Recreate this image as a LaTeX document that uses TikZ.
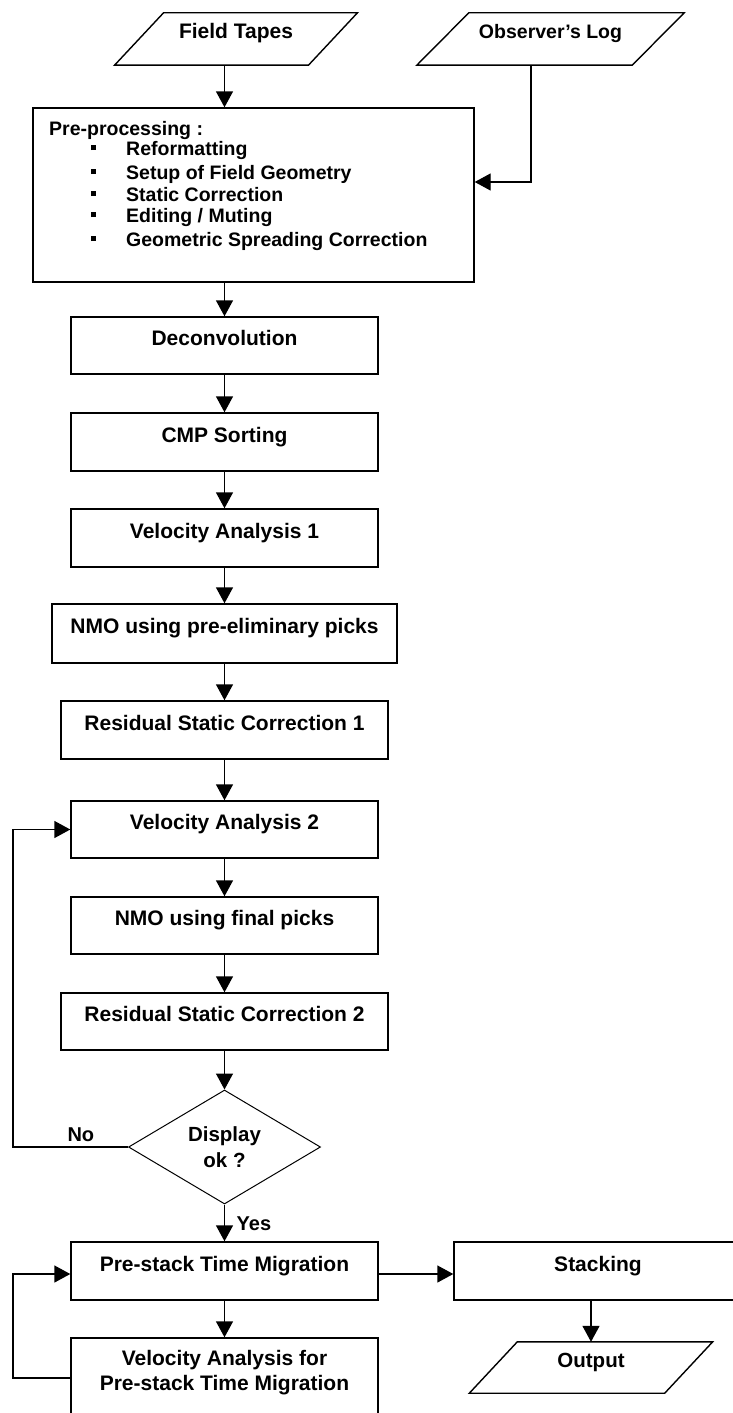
\documentclass[tikz,border=0pt]{standalone}
\usepackage{fontspec}
\setmainfont{Liberation Sans}
\usetikzlibrary{shapes.geometric,arrows.meta}
\begin{document}
\begin{tikzpicture}[x=1pt,y=-1pt,
  box/.style={draw, line width=1.4pt, rectangle, inner sep=0pt,
    font=\bfseries\fontsize{21}{25}\selectfont, text height=13pt, text depth=13pt},
  ptext/.style={rectangle, inner sep=0pt, text height=13pt, text depth=13pt},
  pline/.style={line width=1.4pt, line join=miter},
  arr/.style={line width=1.4pt, -{Triangle[width=17pt,length=16pt]}},
  lbl/.style={inner sep=0pt, font=\bfseries\fontsize{20}{24}\selectfont},
  prep/.style={anchor=base west, inner sep=0pt, font=\bfseries\fontsize{19.5}{22}\selectfont},
]
\useasboundingbox (0,0) rectangle (732,1413);
\fill[white] (0,0) rectangle (732,1413);
\coordinate (lx) at (13,0);

% input parallelograms
\node[ptext, minimum width=193.5pt, minimum height=52pt, font=\bfseries\fontsize{21}{25}\selectfont] (ft) at (236,39) {Field Tapes};
\draw[pline] ([xshift=-24.5pt]ft.south west) -- ([xshift=-24.5pt]ft.south east) -- ([xshift=24.5pt]ft.north east) -- ([xshift=24.5pt]ft.north west) -- cycle;
\node[ptext, minimum width=215pt, minimum height=52pt, font=\bfseries\fontsize{19.5}{24}\selectfont] (ol) at (550.5,39) {Observer's Log};
\draw[pline] ([xshift=-26pt]ol.south west) -- ([xshift=-26pt]ol.south east) -- ([xshift=26pt]ol.north east) -- ([xshift=26pt]ol.north west) -- cycle;

% pre-processing box
\node[draw, line width=1.4pt, rectangle, minimum width=441pt, minimum height=174pt] (pre) at (253.5,195) {};
\node[prep] (pre0) at (49,135) {Pre-processing :};
\node[prep] (pre1) at (91,155) {\rule[5pt]{5pt}{5pt}\hspace*{30pt}Reformatting};
\node[prep] (pre2) at (91,179) {\rule[5pt]{5pt}{5pt}\hspace*{30pt}Setup of Field Geometry};
\node[prep] (pre3) at (91,201) {\rule[5pt]{5pt}{5pt}\hspace*{30pt}Static Correction};
\node[prep] (pre4) at (91,222) {\rule[5pt]{5pt}{5pt}\hspace*{30pt}Editing / Muting};
\node[prep] (pre5) at (91,246) {\rule[5pt]{5pt}{5pt}\hspace*{30pt}Geometric Spreading Correction};

% main column
\node[box, minimum width=307pt, minimum height=57pt] (decon) at (224.5,345.5) {Deconvolution};
\node[box, minimum width=307pt, minimum height=58pt] (cmp) at (224.5,442) {CMP Sorting};
\node[box, minimum width=307pt, minimum height=58pt] (va1) at (224.5,538) {Velocity Analysis 1};
\node[box, minimum width=345pt, minimum height=59pt] (nmo1) at (224.5,633.5) {NMO using pre-eliminary picks};
\node[box, minimum width=327pt, minimum height=58pt] (rsc1) at (224.5,730) {Residual Static Correction 1};
\node[box, minimum width=307pt, minimum height=57pt] (va2) at (224.5,829.5) {Velocity Analysis 2};
\node[box, minimum width=307pt, minimum height=57pt] (nmo2) at (224.5,925.5) {NMO using final picks};
\node[box, minimum width=327pt, minimum height=57pt] (rsc2) at (224.5,1021.5) {Residual Static Correction 2};
\node[draw, diamond, line width=1pt, minimum width=192pt, minimum height=114pt, inner sep=0pt,
  align=center, font=\bfseries\fontsize{20.5}{26}\selectfont] (dia) at (224.5,1147) {Display\\ok ?};
\node[box, minimum width=307pt, minimum height=58pt] (pstm) at (224.5,1271) {Pre-stack Time Migration};
\node[draw, line width=1.4pt, rectangle, minimum width=307pt, minimum height=80pt,
  label={[name=vapstmt, anchor=north, yshift=-13pt, align=center, inner sep=0pt,
    font=\bfseries\fontsize{21}{25}\selectfont]north:Velocity Analysis for\\Pre-stack Time Migration}] (vapstm) at (224.5,1378) {};
\node[box, minimum width=288pt, minimum height=58pt] (stack) at (598,1271) {Stacking};
\node[ptext, minimum width=195pt, minimum height=51pt, font=\bfseries\fontsize{20.5}{25}\selectfont] (out) at (591,1367.5) {Output};
\draw[pline] ([xshift=-24pt]out.south west) -- ([xshift=-24pt]out.south east) -- ([xshift=24pt]out.north east) -- ([xshift=24pt]out.north west) -- cycle;

% connectors
\draw[arr] (ft.south -| decon.north) -- (pre.north -| decon.north);
\draw[arr] ([xshift=-19.5pt]ol.south) |- ([yshift=13pt]pre.east);
\draw[arr] (pre.south -| decon.north) -- (decon.north);
\draw[arr] (decon.south) -- (cmp.north);
\draw[arr] (cmp.south) -- (va1.north);
\draw[arr] (va1.south) -- (nmo1.north);
\draw[arr] (nmo1.south) -- (rsc1.north);
\draw[arr] (rsc1.south) -- (va2.north);
\draw[arr] (va2.south) -- (nmo2.north);
\draw[arr] (nmo2.south) -- (rsc2.north);
\draw[arr] (rsc2.south) -- (dia.north);
\draw[arr] (dia.west) -- node[lbl, pos=0.41, anchor=base, yshift=6pt] (no) {No} (lx |- dia.west) |- (va2.west);
\draw[arr] (dia.south) -- node[lbl, anchor=base west, xshift=11.5pt, yshift=-8pt] (yes) {Yes} (pstm.north);
\draw[arr] ([yshift=-3pt]pstm.east) -- ([yshift=-3pt]stack.west);
\draw[arr] (pstm.south) -- (vapstm.north);
\draw[arr] (vapstm.west) -- (lx |- vapstm.west) |- ([yshift=-3pt]pstm.west);
\draw[arr] (stack.south -| out.north) -- (out.north);
\end{tikzpicture}
\end{document}
